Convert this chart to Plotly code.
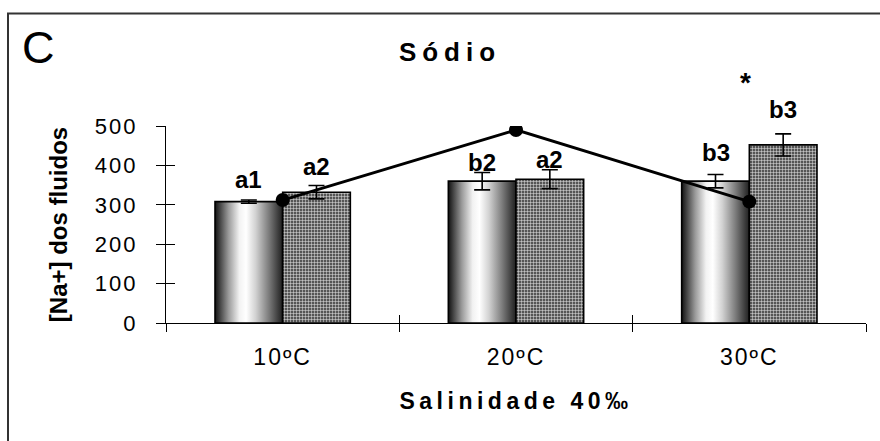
import plotly.graph_objects as go

# ---- data ----
categories = ["10ºC", "20ºC", "30ºC"]
series1 = [308, 360, 360]
series1_err = [4, 22, 17]
series2 = [332, 365, 452]
series2_err = [17, 24, 28]
line_values = [312, 490, 308]
labels1 = ["a1", "b2", "b3"]
labels2 = ["a2", "a2", "b3"]
star_labels = ["", "", "*"]
y_ticks = [0, 100, 200, 300, 400, 500]

# ---- layout constants ----
W, H = 880, 441
L, R, T, B = 166, 14, 126, 118
PW = W - L - R
PH = H - T - B


def px_x(px):
    return (px - L) / PW


def px_y(py):
    return (H - B - py) / PH


BAR_W = 0.29
FONT = "Liberation Sans, Arial, sans-serif"
label1_shift = [22, 19, 29]
label2_shift = [26, 20, 35]
star_shift = 62

xpos = list(range(len(categories)))
bounds = [i - 0.5 for i in xpos] + [xpos[-1] + 0.5]

grad = [[0, '#111111'], [0.06, '#3a3a3a'], [0.2, '#9a9a9a'], [0.36, '#f2f2f2'],
        [0.46, '#ffffff'], [0.6, '#d2d2d2'], [0.8, '#7a7a7a'], [0.94, '#3a3a3a'],
        [1, '#202020']]

fig = go.Figure()

# gradient fill of first series (base subplot, below bars)
for i, v in zip(xpos, series1):
    fig.add_trace(go.Scatter(
        x=[i - BAR_W, i - BAR_W, i, i, i - BAR_W], y=[0, v, v, 0, 0],
        mode='lines', fill='toself', line=dict(width=0),
        fillgradient=dict(type='horizontal', colorscale=grad),
        hoverinfo='skip', showlegend=False, xaxis='x', yaxis='y'))

fig.add_trace(go.Bar(
    x=xpos, y=series1, width=BAR_W, offset=-BAR_W, xaxis='x2', yaxis='y2',
    marker=dict(color='rgba(0,0,0,0)', line=dict(color='black', width=1.6)),
    error_y=dict(type='data', array=series1_err, color='black', thickness=1.6, width=8),
    showlegend=False))

fig.add_trace(go.Bar(
    x=xpos, y=series2, width=BAR_W, offset=0, xaxis='x2', yaxis='y2',
    marker=dict(color='#707070', line=dict(color='black', width=1.6),
                pattern=dict(shape='+', size=3, solidity=0.3, fgcolor='#e6e6e6',
                             bgcolor='#555555', fillmode='replace')),
    error_y=dict(type='data', array=series2_err, color='black', thickness=1.6, width=8),
    showlegend=False))

fig.add_trace(go.Scatter(
    x=xpos, y=line_values, mode='lines+markers', xaxis='x2', yaxis='y2',
    line=dict(color='black', width=3), marker=dict(size=14, color='black'),
    showlegend=False))

annotations = []
lab_font = dict(family=FONT, size=24, color='black', weight='bold')
for i in xpos:
    annotations.append(dict(x=i - BAR_W / 2, y=series1[i], xref='x', yref='y', text=labels1[i],
                            showarrow=False, yanchor='middle', yshift=label1_shift[i], font=lab_font))
    annotations.append(dict(x=i + BAR_W / 2, y=series2[i], xref='x', yref='y', text=labels2[i],
                            showarrow=False, yanchor='middle', yshift=label2_shift[i], font=lab_font))
    if star_labels[i]:
        annotations.append(dict(x=i, y=series2[i], xref='x', yref='y', text=star_labels[i],
                                showarrow=False, yanchor='middle', yshift=star_shift, xshift=-4,
                                font=dict(family=FONT, size=28, color='black', weight='bold')))

annotations.append(dict(x=px_x(20), y=px_y(47), xref='paper', yref='paper', text='C',
                        showarrow=False, xanchor='left', yanchor='middle',
                        font=dict(family=FONT, size=45, color='black')))

fig.update_layout(
    width=W, height=H,
    margin=dict(l=L, r=R, t=T, b=B),
    paper_bgcolor='white', plot_bgcolor='white',
    barmode='overlay', showlegend=False,
    title=dict(text='Sódio', x=450 / W, xref='container', xanchor='center',
               y=1 - 52 / H, yref='container', yanchor='middle',
               font=dict(family=FONT, size=26, color='black', weight='bold')),
    xaxis=dict(range=[-0.5, 2.5], tickmode='array', tickvals=xpos, ticktext=categories,
               ticks='', showline=True, linecolor='black', linewidth=1.3,
               showgrid=False, zeroline=False, ticklabelstandoff=13,
               tickfont=dict(family=FONT, size=23, color='black'),
               minor=dict(tickmode='array', tickvals=bounds, ticks='outside', ticklen=8,
                          tickcolor='black', tickwidth=1.3, showgrid=False),
               title=dict(text='Salinidade 40‰', standoff=24,
                          font=dict(family=FONT, size=23, color='black', weight='bold'))),
    xaxis2=dict(overlaying='x', range=[-0.5, 2.5], tickmode='array', tickvals=bounds,
                ticks='inside', ticklen=8, tickcolor='black', tickwidth=1.3,
                showticklabels=False, showgrid=False, zeroline=False, showline=False),
    yaxis=dict(range=[0, 500], tickmode='array', tickvals=y_ticks, ticks='outside', ticklen=9,
               tickcolor='black', tickwidth=1.3, showline=True, linecolor='black', linewidth=1.3,
               showgrid=False, zeroline=False, ticklabelstandoff=14,
               tickfont=dict(family=FONT, size=22, color='black'),
               title=dict(text='[Na+] dos fluidos', standoff=26,
                          font=dict(family=FONT, size=24, color='black', weight='bold'))),
    yaxis2=dict(overlaying='y', range=[0, 500], tickmode='array', tickvals=y_ticks,
                ticks='inside', ticklen=9, tickcolor='black', tickwidth=1.3,
                showticklabels=False, showgrid=False, zeroline=False, showline=False),
    annotations=annotations,
    shapes=[dict(type='rect', xref='paper', yref='paper',
                 x0=px_x(8), x1=px_x(890), y0=px_y(450), y1=px_y(13.5),
                 line=dict(color='#333333', width=2), fillcolor='rgba(0,0,0,0)', layer='above')],
)

css = ("document.body.style.margin='0';"
       "var s=document.createElement('style');"
       "s.textContent='body{margin:0}.gtitle{letter-spacing:6px}.xtitle{letter-spacing:4.5px}"
       ".xtick text{letter-spacing:2px}.ytick text{letter-spacing:2px}';"
       "document.head.appendChild(s);")

fig.write_html("out.html", post_script=css, config={'displayModeBar': False})
